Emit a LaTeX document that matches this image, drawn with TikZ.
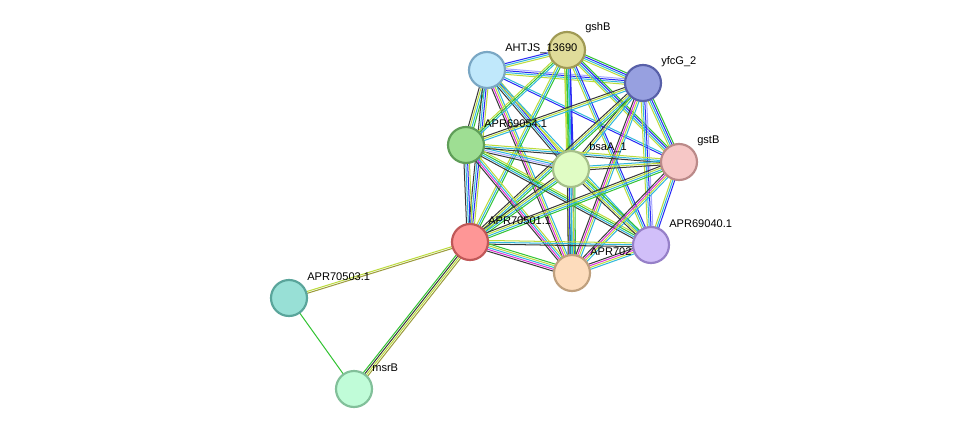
\documentclass[tikz,border=0pt]{standalone}
\usepackage{fontspec}
\setmainfont{Liberation Sans}
\usetikzlibrary{calc}
\definecolor{sgreen}{HTML}{33C433}
\definecolor{sblue}{HTML}{2A2AF5}
\definecolor{scyan}{HTML}{30B8DC}
\definecolor{syel}{HTML}{BCDC3C}
\definecolor{sblack}{HTML}{3A3A3A}
\definecolor{smag}{HTML}{E030D8}
\definecolor{slav}{HTML}{A8A8FF}
\definecolor{solive}{HTML}{9C9C3C}
\tikzset{
  prot/.style={circle,minimum size=0.936cm,line width=1.6pt,inner sep=0pt},
  lbl/.style={anchor=west,font=\fontsize{8.2pt}{9pt}\selectfont,inner sep=0pt},
  eline/.style={line width=0.75pt}
}
\newcommand{\bnd}[4]{%
  \foreach \c [count=\i] in {#4} {%
    \pgfmathsetmacro{\o}{(\i-(#3+1)/2)*1.35}%
    \draw[eline,\c] ($(#1)!\o pt!90:(#2)$) -- ($(#2)!\o pt!-90:(#1)$);
  }}
\begin{document}
\begin{tikzpicture}[x=0.026cm,y=-0.026cm]
\useasboundingbox[fill=white] (0,0) rectangle (975,435);
\coordinate (A) at (487,70);
\coordinate (G) at (567,50);
\coordinate (Y) at (643,83);
\coordinate (P) at (466,145);
\coordinate (B) at (571,169);
\coordinate (S) at (679,162);
\coordinate (R) at (470,242);
\coordinate (V) at (651,245);
\coordinate (O) at (572,273);
\coordinate (X) at (289,298);
\coordinate (M) at (354,389);
\bnd{A}{G}{3}{syel,scyan,sblue}
\bnd{A}{Y}{4}{syel,scyan,sblue,slav}
\bnd{A}{P}{4}{sblack,syel,scyan,sgreen}
\bnd{A}{B}{4}{sblack,scyan,sblue,syel}
\bnd{A}{S}{2}{sblue,scyan}
\bnd{A}{R}{4}{sblack,scyan,sblue,syel}
\bnd{A}{V}{2}{syel,scyan}
\bnd{A}{O}{4}{sblack,smag,syel,scyan}
\bnd{G}{Y}{4}{syel,scyan,sblue,sgreen}
\bnd{G}{P}{3}{syel,sgreen,scyan}
\bnd{G}{B}{4}{syel,sgreen,scyan,sblue}
\bnd{G}{S}{4}{syel,scyan,sblue,sgreen}
\bnd{G}{R}{3}{syel,scyan,sgreen}
\bnd{G}{V}{3}{syel,scyan,sblue}
\bnd{G}{O}{4}{syel,sgreen,scyan,sblue}
\bnd{Y}{P}{3}{sblack,syel,scyan}
\bnd{Y}{B}{3}{sblack,syel,scyan}
\bnd{Y}{S}{4}{syel,scyan,sblue,sgreen}
\bnd{Y}{R}{4}{sblack,syel,scyan,sgreen}
\bnd{Y}{V}{4}{syel,scyan,sblue,slav}
\bnd{Y}{O}{4}{sblack,smag,syel,scyan}
\bnd{P}{B}{4}{sblack,slav,scyan,syel}
\bnd{P}{S}{3}{sblack,scyan,syel}
\bnd{P}{R}{4}{sblack,scyan,sblue,syel}
\bnd{P}{V}{4}{sblack,scyan,sgreen,syel}
\bnd{P}{O}{4}{sblack,smag,scyan,syel}
\bnd{B}{S}{3}{sblack,syel,scyan}
\bnd{B}{R}{4}{sblack,syel,scyan,sgreen}
\bnd{B}{V}{4}{sblack,syel,scyan,sgreen}
\bnd{B}{O}{5}{sblack,sblue,scyan,syel,sgreen}
\bnd{S}{R}{4}{sblack,syel,scyan,sgreen}
\bnd{S}{V}{3}{syel,scyan,sblue}
\bnd{S}{O}{4}{sblack,smag,syel,scyan}
\bnd{R}{V}{3}{sblack,scyan,syel}
\bnd{R}{O}{5}{sblack,smag,scyan,syel,sgreen}
\bnd{V}{O}{4}{sblack,smag,syel,scyan}
\bnd{R}{X}{2}{syel,solive}
\bnd{R}{M}{4}{sgreen,sblack,syel,solive}
\bnd{X}{M}{1}{sgreen}
\node[prot,fill={rgb,255:red,192;green,232;blue,251},draw={rgb,255:red,122;green,167;blue,196}] (nA) at (A) {};
\node[prot,fill={rgb,255:red,224;green,220;blue,154},draw={rgb,255:red,160;green,154;blue,85}] (nG) at (G) {};
\node[prot,fill={rgb,255:red,151;green,160;blue,224},draw={rgb,255:red,88;green,96;blue,168}] (nY) at (Y) {};
\node[prot,fill={rgb,255:red,158;green,222;blue,147},draw={rgb,255:red,95;green,158;blue,88}] (nP) at (P) {};
\node[prot,fill={rgb,255:red,224;green,252;blue,196},draw={rgb,255:red,166;green,192;blue,138}] (nB) at (B) {};
\node[prot,fill={rgb,255:red,246;green,199;blue,198},draw={rgb,255:red,187;green,138;blue,137}] (nS) at (S) {};
\node[prot,fill={rgb,255:red,254;green,150;blue,150},draw={rgb,255:red,192;green,88;blue,88}] (nR) at (R) {};
\node[prot,fill={rgb,255:red,209;green,191;blue,249},draw={rgb,255:red,150;green,128;blue,200}] (nV) at (V) {};
\node[prot,fill={rgb,255:red,253;green,220;blue,188},draw={rgb,255:red,191;green,160;blue,126}] (nO) at (O) {};
\node[prot,fill={rgb,255:red,152;green,224;blue,214},draw={rgb,255:red,90;green,165;blue,155}] (nX) at (X) {};
\node[prot,fill={rgb,255:red,192;green,252;blue,216},draw={rgb,255:red,130;green,192;blue,154}] (nM) at (M) {};
\node[lbl] (tA) at (505,49) {AHTJS\_13690};
\node[lbl] (tG) at (585,28) {gshB};
\node[lbl] (tY) at (661,62) {yfcG\_2};
\node[lbl] (tP) at (484,124) {APR69054.1};
\node[lbl] (tB) at (589,148) {bsaA\_1};
\node[lbl] (tS) at (697,141) {gstB};
\node[lbl] (tR) at (488,221) {APR70501.1};
\node[lbl] (tV) at (669,224) {APR69040.1};
\node[lbl] (tO) at (590,252) {APR702};
\node[lbl] (tX) at (307,277) {APR70503.1};
\node[lbl] (tM) at (372,368) {msrB};
\end{tikzpicture}
\end{document}
